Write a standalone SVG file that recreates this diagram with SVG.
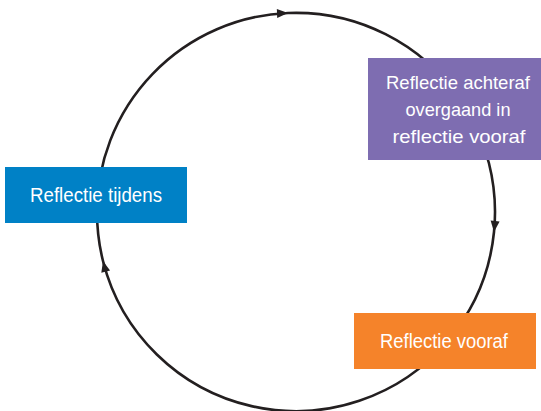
<svg xmlns="http://www.w3.org/2000/svg" width="541" height="411" viewBox="0 0 541 411">
<style>
.edge{fill:none;stroke:#231F20;stroke-width:2.6;marker-mid:url(#arr)}
.lbl{font-family:"Liberation Sans Narrow","Liberation Sans",Arial,sans-serif;font-size:20px;fill:#ffffff;text-anchor:middle}
.sm{font-size:19px}
</style>
<defs>
<marker id="arr" markerUnits="userSpaceOnUse" markerWidth="12" markerHeight="10" refX="11" refY="5" orient="auto" overflow="visible">
<path d="M0,0.5 L11,5 L0,9.5 z" fill="#231F20"/>
</marker>
</defs>
<rect width="541" height="411" fill="#ffffff"/>
<g id="connectors">
<path class="edge" d="M97,212 A199,199 0 0 1 288,13 A199,199 0 0 1 460.5,100"/>
<path class="edge" d="M460.5,100 A199,199 0 0 1 494,232 A199,199 0 0 1 448.4,340"/>
<path class="edge" d="M448.4,340 A199,199 0 0 1 103,261 A199,199 0 0 1 97,212"/>
</g>
<g id="node-achteraf">
<rect x="368" y="58" width="173" height="102" fill="#7E6DB1"/>
<text class="lbl sm" x="458" y="89" textLength="144" lengthAdjust="spacingAndGlyphs">Reflectie achteraf</text>
<text class="lbl sm" x="458" y="116" textLength="105" lengthAdjust="spacingAndGlyphs">overgaand in</text>
<text class="lbl sm" x="459" y="143" textLength="133" lengthAdjust="spacingAndGlyphs">reflectie vooraf</text>
</g>
<g id="node-tijdens">
<rect x="5" y="167" width="182" height="56" fill="#0081C6"/>
<text class="lbl" x="96" y="202" textLength="132" lengthAdjust="spacingAndGlyphs">Reflectie tijdens</text>
</g>
<g id="node-vooraf">
<rect x="354" y="313" width="182" height="56" fill="#F5832A"/>
<text class="lbl" x="444" y="348" textLength="128" lengthAdjust="spacingAndGlyphs">Reflectie vooraf</text>
</g>
</svg>
